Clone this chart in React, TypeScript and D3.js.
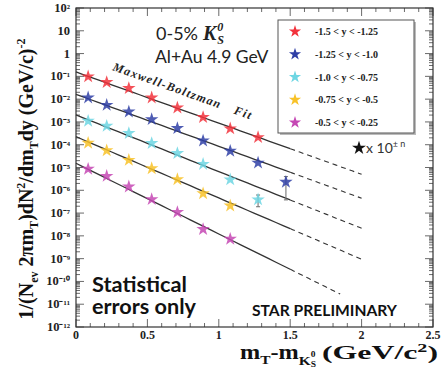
import React from 'react';
import * as d3 from 'd3';

const W = 443;
const H = 375;

// x: mT - m (GeV/c^2)
const xTickValues = [0, 0.5, 1, 1.5, 2, 2.5];
const xTickLabels = ['0', '0.5', '1', '1.5', '2', '2.5'];
const yTickExps = [2, 1, 0, -1, -2, -3, -4, -5, -6, -7, -8, -9, -10, -11, -12];

const mtBins = [0.085, 0.215, 0.37, 0.53, 0.71, 0.89, 1.08, 1.275, 1.47];

const seriesLabels = ['-1.5 < y < -1.25', '-1.25 < y < -1.0', '-1.0 < y < -0.75', '-0.75 < y < -0.5', '-0.5 < y < -0.25'];
const seriesColors = ['#f2323c', '#2f3fa6', '#6dd6e3', '#f8c228', '#c548b4'];

const redValues = [9.7e-2, 5.5e-2, 3.0e-2, 1.16e-2, 4.2e-3, 1.6e-3, 5.1e-4, 2.1e-4];
const blueValues = [1.16e-2, 5.5e-3, 2.8e-3, 1.3e-3, 5.3e-4, 1.5e-4, 5.3e-5, 1.6e-5, 2.3e-6];
const cyanValues = [1.1e-3, 6.6e-4, 3.2e-4, 1.16e-4, 4.2e-5, 1.4e-5, 2.95e-6, 3.9e-7];
const yellowValues = [1.19e-4, 5.6e-5, 2.1e-5, 9.1e-6, 3.0e-6, 7.2e-7, 2.1e-7];
const magentaValues = [8.6e-6, 4.2e-6, 1.44e-6, 4.0e-7, 1.09e-7, 1.95e-8, 7.3e-9];
const seriesValues = [redValues, blueValues, cyanValues, yellowValues, magentaValues];

// error bars (statistical)
const errSeries = [1, 2];
const errBin = [8, 7];
const errLow = [3.8e-7, 1.9e-7];
const errHigh = [4.0e-6, 6.2e-7];

// Maxwell-Boltzmann fit lines: value at x=0, value at fit end, fit end
const fitStart = [0.1556, 0.01633, 2.02e-3, 2.25e-4, 1.53e-5];
const fitEndValue = [5.05e-6, 4.47e-7, 2.15e-8, 9.4e-10, 2.8e-11];
const fitEndX = [2.0, 2.0, 2.0, 2.0, 1.85];
const fitSolidEnd = 1.5;

const left = 76, right = 433, top = 8, bottom = 327;

const x = d3.scaleLinear().domain([0, 2.5]).range([left, right]);
const y = d3.scaleLog().domain([1e-12, 1e2]).range([bottom, top]);

const serif = '"Liberation Serif", "Times New Roman", serif';
const sans = 'Lato, "Open Sans", sans-serif';

const superscripts: Record<string, string> = { '-': '\u207B', '0': '\u2070', '1': '\u00B9', '2': '\u00B2', '3': '\u00B3', '4': '\u2074', '5': '\u2075', '6': '\u2076', '7': '\u2077', '8': '\u2078', '9': '\u2079' };

function fitValue(i: number, xv: number) {
  const l0 = Math.log10(fitStart[i]);
  const l1 = Math.log10(fitEndValue[i]);
  return Math.pow(10, l0 + (l1 - l0) * xv / fitEndX[i]);
}

export default function App() {
  const star = d3.symbol().type(d3.symbolStar);
  const starPath = star.size(56)() as string;
  const legendStar = star.size(46)() as string;

  const yMinor: number[] = [];
  for (let e = -12; e < 2; e++) for (let k = 2; k <= 9; k++) yMinor.push(k * Math.pow(10, e));
  const xMinor: number[] = [];
  for (let v = 0; v <= 2.5001; v += 0.1) xMinor.push(+v.toFixed(2));

  return (
    <svg width={W} height={H} style={{ position: 'absolute', left: 0, top: 0, background: '#fff' }} xmlns="http://www.w3.org/2000/svg">
      <rect x={0} y={0} width={W} height={H} fill="#fff" />
      {/* ticks */}
      <g stroke="#444" strokeWidth={0.8}>
        {yMinor.map((v, i) => (
          <g key={'ym' + i}>
            <line x1={left} x2={left + 4} y1={y(v)} y2={y(v)} />
            <line x1={right} x2={right - 4} y1={y(v)} y2={y(v)} />
          </g>
        ))}
        {yTickExps.map((e) => (
          <g key={'yM' + e}>
            <line x1={left} x2={left + 8} y1={y(Math.pow(10, e))} y2={y(Math.pow(10, e))} />
            <line x1={right} x2={right - 8} y1={y(Math.pow(10, e))} y2={y(Math.pow(10, e))} />
          </g>
        ))}
        {xMinor.map((v, i) => {
          const major = Math.abs(v * 2 - Math.round(v * 2)) < 1e-6;
          const len = major ? 8 : 4;
          return (
            <g key={'xm' + i}>
              <line x1={x(v)} x2={x(v)} y1={bottom} y2={bottom - len} />
              <line x1={x(v)} x2={x(v)} y1={top} y2={top + len} />
            </g>
          );
        })}
      </g>
      <rect x={left} y={top} width={right - left} height={bottom - top} fill="none" stroke="#333" strokeWidth={1.2} />

      {/* y tick labels */}
      {yTickExps.map((e) => {
        const yy = y(Math.pow(10, e));
        if (e === 0) return <text key={'yl' + e} x={70} y={yy + 4} textAnchor="end" fontFamily={serif} fontWeight="bold" fontSize={12.5} fill="#222">1</text>;
        if (e === 1) return <text key={'yl' + e} x={70} y={yy + 4} textAnchor="end" fontFamily={serif} fontWeight="bold" fontSize={12.5} fill="#222">10</text>;
        const sup = String(e).split('').map((c) => superscripts[c]).join('');
        return (
          <text key={'yl' + e} x={70} y={yy + 4} textAnchor="end" fontFamily={serif} fontWeight="bold" fontSize={12.5} fill="#222">10<tspan fontSize={11}>{sup}</tspan></text>
        );
      })}
      {/* x tick labels */}
      {xTickValues.map((v, i) => (
        <text key={'xl' + i} x={x(v)} y={339} textAnchor="middle" fontFamily={serif} fontWeight="bold" fontSize={12} fill="#222">{xTickLabels[i]}</text>
      ))}

      {/* fit lines */}
      {fitStart.map((_, i) => {
        const solid = d3.range(0, 31).map((k) => (k / 30) * fitSolidEnd);
        const dashed = d3.range(0, 31).map((k) => fitSolidEnd + (k / 30) * (fitEndX[i] - fitSolidEnd));
        const path = (xs: number[]) => d3.line<number>().x((d) => x(d)).y((d) => y(fitValue(i, d)))(xs) as string;
        return (
          <g key={'fit' + i} fill="none" stroke="#333">
            <path d={path(solid)} strokeWidth={1.3} />
            <path d={path(dashed)} strokeWidth={1.1} strokeDasharray="5,4" />
          </g>
        );
      })}

      {/* error bars */}
      {errSeries.map((s, k) => (
        <g key={'err' + k} stroke="#777" strokeWidth={1.1}>
          <line x1={x(mtBins[errBin[k]])} x2={x(mtBins[errBin[k]])} y1={y(errLow[k])} y2={y(errHigh[k])} />
          <line x1={x(mtBins[errBin[k]]) - 2} x2={x(mtBins[errBin[k]]) + 2} y1={y(errLow[k])} y2={y(errLow[k])} />
          <line x1={x(mtBins[errBin[k]]) - 2} x2={x(mtBins[errBin[k]]) + 2} y1={y(errHigh[k])} y2={y(errHigh[k])} />
        </g>
      ))}

      {/* data points */}
      {seriesValues.map((vals, s) => (
        <g key={'s' + s} fill={seriesColors[s]} fillOpacity={0.85}>
          {vals.map((v, i) => (
            <path key={i} d={starPath} transform={`translate(${x(mtBins[i])},${y(v)})`} />
          ))}
        </g>
      ))}

      {/* Maxwell-Boltzman label */}
      <text x={112} y={70} transform="rotate(19.7 112 70)" fontFamily={serif} fontStyle="italic" fontWeight="bold" fontSize={12} letterSpacing={1.3} fill="#222">Maxwell-Boltzman<tspan dx={14}>Fit</tspan></text>

      {/* title */}
      <text x={156} y={40} fontFamily={sans} fontSize={18} fill="#222">0-5%<tspan dx={5} fontFamily={serif} fontStyle="italic" fontWeight="bold" fontSize={20}>K</tspan><tspan fontFamily={serif} fontStyle="italic" fontWeight="bold" fontSize={12} dx={1} dy={-9}>0</tspan><tspan fontFamily={serif} fontStyle="italic" fontWeight="bold" fontSize={12} dx={-6} dy={13}>S</tspan></text>
      <text x={155} y={63} fontFamily={sans} fontSize={17.5} fill="#222">Al+Au 4.9 GeV</text>

      {/* legend */}
      <rect x={280} y={22} width={136} height={113} fill="#bbb" />
      <rect x={278} y={20} width={136} height={113} fill="#fff" stroke="#555" strokeWidth={1} />
      {seriesLabels.map((lab, s) => {
        const yy = 31.5 + s * 22.75;
        return (
          <g key={'lg' + s}>
            <path d={legendStar} transform={`translate(295,${yy})`} fill={seriesColors[s]} />
            <text x={315} y={yy + 3.5} fontFamily={serif} fontWeight="bold" fontSize={10} fill="#222">{lab}</text>
          </g>
        );
      })}

      {/* x 10^±n */}
      <path d={star.size(60)() as string} transform="translate(359,148)" fill="#111" />
      <text x={366} y={153} fontFamily={sans} fontSize={14} fill="#333">x 10<tspan fontSize={9} dy={-6}>{'\u00B1 n'}</tspan></text>

      {/* annotations */}
      <text x={92} y={292} fontFamily={sans} fontWeight="bold" fontSize={20.5} fill="#111" textLength={95} lengthAdjust="spacingAndGlyphs">Statistical</text>
      <text x={92} y={314} fontFamily={sans} fontWeight="bold" fontSize={20.5} fill="#111" textLength={104} lengthAdjust="spacingAndGlyphs">errors only</text>
      <text x={252} y={316} fontFamily={sans} fontWeight="bold" fontSize={15} fill="#111" textLength={145} lengthAdjust="spacingAndGlyphs">STAR PRELIMINARY</text>

      {/* x axis title */}
      <text x={240} y={359} fontFamily={serif} fontWeight="bold" fontSize={20.5} fill="#111" textLength={76} lengthAdjust="spacingAndGlyphs">m<tspan fontSize={13} dy={5}>T</tspan><tspan dy={-5}>-m</tspan><tspan fontSize={13} dy={6}>K</tspan><tspan fontSize={8} dy={-8}>0</tspan><tspan fontSize={8} dx={-4} dy={10}>S</tspan></text>
      <text x={322} y={359} fontFamily={serif} fontWeight="bold" fontSize={19} fill="#111" textLength={116} lengthAdjust="spacingAndGlyphs">(GeV/c<tspan fontSize={12} dy={-7}>2</tspan><tspan dy={7}>)</tspan></text>

      {/* y axis title */}
      <text transform="translate(33,179) rotate(-90)" textAnchor="middle" fontFamily={serif} fontWeight="bold" fontSize={20} fill="#111">1/(N<tspan fontSize={12} dy={5}>ev</tspan><tspan dy={-5}> 2πm</tspan><tspan fontSize={12} dy={5}>T</tspan><tspan dy={-5}>)dN</tspan><tspan fontSize={12} dy={-8}>2</tspan><tspan dy={8}>/dm</tspan><tspan fontSize={12} dy={5}>T</tspan><tspan dy={-5}>dy (GeV/c)</tspan><tspan fontSize={12} dy={-8}>-2</tspan></text>
    </svg>
  );
}
